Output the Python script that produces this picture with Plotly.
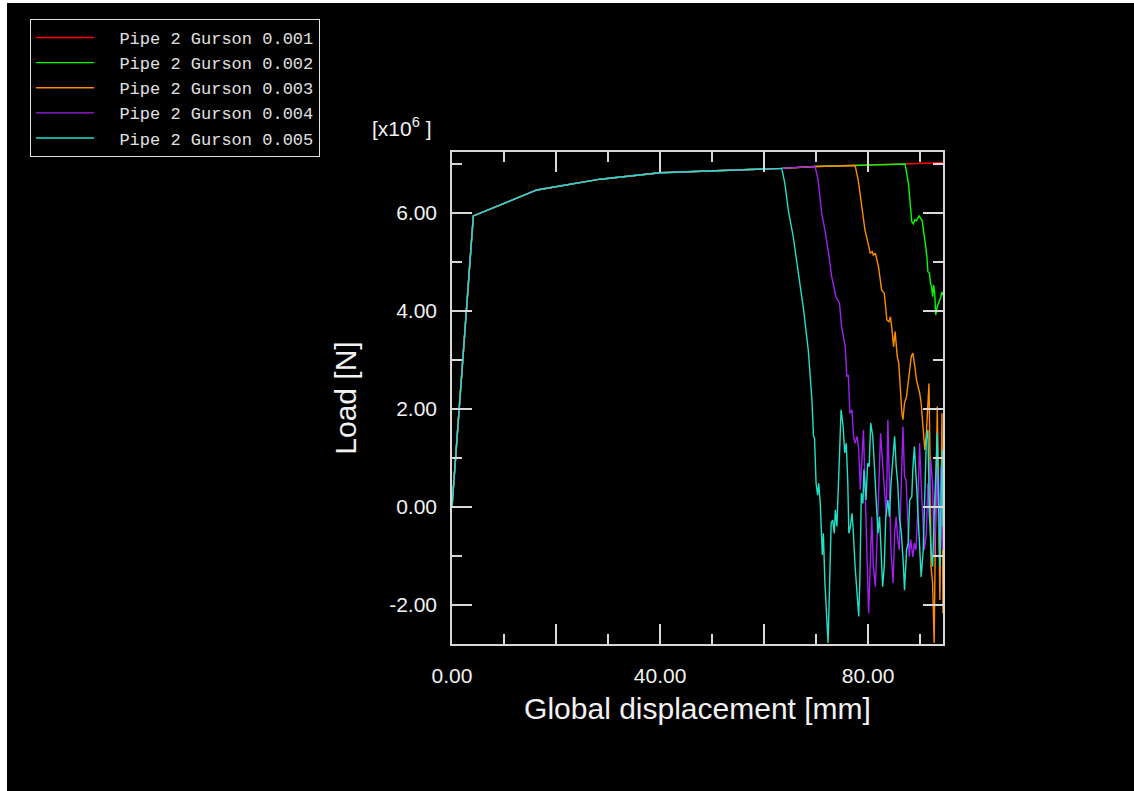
import plotly.graph_objects as go

# ---- data (load in units of 1e6 N, displacement in mm) ----
names = ["Pipe 2 Gurson 0.001", "Pipe 2 Gurson 0.002", "Pipe 2 Gurson 0.003",
         "Pipe 2 Gurson 0.004", "Pipe 2 Gurson 0.005"]
colors = ["#ff0000", "#00ff00", "#ff8c00", "#a020f0", "#20e0c8"]

common_x = [0.0, 4.1, 16.3, 28.5, 40.0, 59.2, 63.4]
common_y = [0.0, 5.94, 6.47, 6.69, 6.82, 6.89, 6.91]

red_x = [69.8, 77.5, 87.1, 94.4]
red_y = [6.95, 6.97, 7.00, 7.03]

green_x = [69.8, 77.5, 87.1, 87.75, 88.4, 88.7, 89.0, 89.3, 89.8, 90.1, 90.4, 90.9, 91.3,
           91.5, 91.8, 92.0, 92.2, 92.4, 92.6, 92.8, 93.0, 93.3, 93.7, 94.0, 94.2, 94.4]
green_y = [6.95, 6.97, 7.00, 6.61, 5.82, 5.78, 5.86, 5.84, 5.94, 5.89, 5.84, 5.45, 5.11,
           4.80, 4.77, 4.56, 4.50, 4.29, 4.53, 4.36, 3.92, 4.09, 4.19, 4.29, 4.39, 4.32]

orange_x = [69.8, 77.5, 78.1, 78.8, 79.4, 80.0, 80.4, 80.8, 81.0, 81.4, 82.0, 82.6, 83.1,
            83.3, 83.6, 84.0, 84.3, 84.6, 84.9, 85.2, 85.6, 85.9, 86.2, 86.5, 86.7, 87.0,
            87.4, 87.7, 88.0, 88.3, 88.6, 89.0, 89.3, 89.6, 89.9, 90.2, 90.6, 90.9, 91.2,
            91.5, 91.7, 91.9, 92.1, 92.4, 92.7, 92.9, 93.1, 93.3, 93.5, 93.8, 94.0, 94.2, 94.4]
orange_y = [6.95, 6.97, 6.67, 6.06, 5.65, 5.38, 5.18, 5.21, 5.14, 5.18, 4.90, 4.43, 4.36,
            4.16, 3.82, 3.78, 3.88, 3.61, 3.27, 3.58, 3.07, 2.93, 2.39, 1.91, 1.78, 2.12,
            2.26, 2.59, 2.80, 3.07, 3.14, 2.86, 2.59, 2.46, 2.33, 2.12, 1.64, 1.16, 1.50,
            2.18, 2.52, 1.03, -1.22, -1.56, -2.78, -0.88, 1.16, 2.05, 0.48, -1.90, -0.20, 1.91, -2.17]

purple_x = [69.8, 70.4, 71.07, 71.7, 72.4, 73.0, 73.8, 74.5, 74.9, 75.6, 75.9, 76.2, 76.5,
            76.9, 77.2, 77.5, 77.9, 78.2, 78.5, 78.8, 79.1, 79.4, 79.8, 80.1, 80.4, 80.7,
            81.0, 81.4, 81.7, 82.0, 82.4, 82.7, 83.0, 83.5, 83.8, 84.1, 84.4, 84.8, 85.1,
            85.4, 85.7, 86.0, 86.4, 86.7, 87.0, 87.3, 87.6, 87.9, 88.2, 88.6, 88.9, 89.2,
            89.5, 89.9, 90.2, 90.5, 90.8, 91.2, 91.5, 91.8, 92.05, 92.4, 92.7, 93.0, 93.3,
            93.6, 94.0, 94.3]
purple_y = [6.95, 6.67, 5.99, 5.65, 5.18, 4.70, 4.29, 4.16, 3.68, 3.27, 2.66, 2.69, 1.91,
            1.98, 1.44, 1.30, 1.44, 1.16, 0.35, 0.89, 1.57, 0.48, -0.88, -2.17, -1.22, -0.20,
            -1.22, -1.63, -0.74, 0.14, 1.50, 1.03, 0.48, -0.20, 1.78, 0.48, -0.88, -1.56, -0.54,
            -0.20, -0.67, -0.88, 0.48, 1.64, 0.62, 0.55, -0.20, -1.02, -0.67, -1.02, -0.74, -0.88,
            -0.20, 1.30, 0.48, -0.20, -0.88, -0.54, 0.48, -0.20, 0.96, 0.48, -1.02, -0.20, 0.82,
            -0.54, 0.82, -0.88]

cyan_x = [64.0, 64.7, 65.6, 66.6, 67.6, 68.5, 69.2, 69.5, 69.7, 70.0, 70.3, 70.5, 70.8,
          71.2, 71.4, 71.7, 72.1, 72.3, 72.6, 72.9, 73.2, 73.5, 73.7, 74.0, 74.4, 74.8,
          75.2, 75.5, 75.8, 76.1, 76.3, 76.6, 76.9, 77.1, 77.5, 77.8, 78.2, 78.4, 78.7,
          79.0, 79.2, 79.6, 79.9, 80.2, 80.5, 80.9, 81.2, 81.5, 81.9, 82.2, 82.5, 82.8,
          83.1, 83.4, 83.8, 84.1, 84.4, 84.7, 85.1, 85.4, 85.7, 86.0, 86.4, 86.8, 87.0,
          87.4, 87.7, 88.0, 88.4, 88.6, 88.9, 89.3, 89.6, 89.9, 90.2, 90.6, 90.9, 91.2,
          91.5, 91.8, 92.1, 92.4, 92.7, 93.1, 93.3, 93.6, 93.8, 94.1, 94.3, 94.4]
cyan_y = [6.60, 6.03, 5.52, 4.77, 4.02, 3.20, 2.18, 1.44, 1.40, 0.48, 0.24, 0.48, 0.07,
          -0.98, -0.54, -1.56, -2.38, -2.78, -1.56, -0.33, -0.27, -0.54, -0.06, -0.40, 0.76, 1.98,
          1.64, 1.10, 1.30, 0.48, -0.54, -0.40, -0.13, -0.40, -1.22, -1.77, -2.24, -1.56, 0.28,
          0.07, 0.76, 0.14, 0.89, 0.82, 1.71, 1.44, 0.89, 0.14, -0.54, -0.20, -0.88, -1.63,
          -1.22, -0.20, 0.14, -0.20, 0.48, 0.96, 1.44, 0.82, 0.48, -0.20, -0.54, -1.22, -1.70,
          -0.88, -0.74, 0.14, 0.21, 0.76, 1.23, 0.48, -0.20, -0.61, -1.43, -0.88, 0.48, 1.37,
          1.57, -0.20, -0.88, -1.22, -0.20, 0.82, 1.50, -0.20, -1.22, 0.48, 1.16, -0.40]

series_x = [common_x + red_x, common_x + green_x, common_x + orange_x,
            common_x + purple_x, common_x + cyan_x]
series_y = [common_y + red_y, common_y + green_y, common_y + orange_y,
            common_y + purple_y, common_y + cyan_y]

x_ticks = [0, 20, 40, 60, 80]
x_ticktext = ["0.00", "", "40.00", "", "80.00"]
x_minor = [10, 30, 50, 70, 90]
y_ticks = [-2, 0, 2, 4, 6]
y_ticktext = ["-2.00", "0.00", "2.00", "4.00", "6.00"]
y_minor = [-1, 1, 3, 5, 7]

# ---- figure ----
W, H = 1134, 791
L, R, T, B = 452, 943, 152, 644
pw, ph = R - L, B - T

fig = go.Figure()
NB = "\u00a0"
for n, c, xs, ys in zip(names, colors, series_x, series_y):
    fig.add_trace(go.Scatter(x=xs, y=ys, mode="lines", name=NB * 2 + n,
                             line=dict(color=c, width=1.4)))

axis_col = "#d8d8d8"
txt_col = "#f2f2f2"
sans = "Liberation Sans, Arial, sans-serif"
tick_font = dict(family=sans, size=21, color=txt_col)
title_font = dict(family=sans, size=30, color=txt_col)

fig.update_xaxes(range=[0, 94.4], showgrid=False, zeroline=False,
                 showline=True, linecolor=axis_col, linewidth=1.5, mirror="ticks",
                 ticks="inside", ticklen=20, tickwidth=1.5, tickcolor=axis_col,
                 tickvals=x_ticks, ticktext=x_ticktext, tickfont=tick_font,
                 ticklabelstandoff=12,
                 minor=dict(tickvals=x_minor, ticks="inside", ticklen=10,
                            tickwidth=1.5, tickcolor=axis_col),
                 title=dict(text="Global displacement [mm]", font=title_font, standoff=12))
fig.update_yaxes(range=[-2.8, 7.245], showgrid=False, zeroline=False,
                 showline=True, linecolor=axis_col, linewidth=1.5, mirror="ticks",
                 ticks="inside", ticklen=20, tickwidth=1.5, tickcolor=axis_col,
                 tickvals=y_ticks, ticktext=y_ticktext, tickfont=tick_font,
                 ticklabelstandoff=9,
                 minor=dict(tickvals=y_minor, ticks="inside", ticklen=10,
                            tickwidth=1.5, tickcolor=axis_col),
                 title=dict(text="Load [N]", font=title_font, standoff=24))

fig.add_annotation(text="[x10<sup>6</sup> ]", xref="paper", yref="paper",
                   x=(402 - L) / pw, y=(B - 127) / ph, xanchor="center", yanchor="middle",
                   showarrow=False, font=dict(family=sans, size=21, color=txt_col))

# black canvas with thin white border on top/left
fig.add_shape(type="rect", xref="paper", yref="paper", layer="below",
              x0=(7 - L) / pw, x1=(W + 5 - L) / pw, y0=(B - H - 5) / ph, y1=(B - 3) / ph,
              fillcolor="black", line=dict(width=0))

fig.update_layout(
    width=W, height=H, autosize=False,
    margin=dict(l=L, r=W - R, t=T, b=H - B),
    paper_bgcolor="white", plot_bgcolor="black",
    showlegend=True,
    legend=dict(x=(30 - L) / pw, y=(B - 19) / ph, xanchor="left", yanchor="top",
                bgcolor="black", bordercolor="#e0e0e0", borderwidth=1,
                font=dict(family="Liberation Mono, Courier New, monospace", size=17, color="#e0e0e0"),
                itemwidth=58, tracegroupgap=0),
)

fig.write_html("out.html")
